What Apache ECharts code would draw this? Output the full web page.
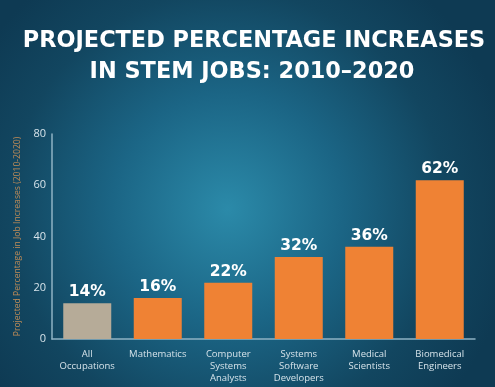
<!DOCTYPE html>
<html><head><meta charset="utf-8">
<script src="https://cdn.jsdelivr.net/npm/echarts@6/dist/echarts.min.js"></script>
<style>html,body{margin:0;padding:0;background:#0f3d57}#c{width:495px;height:387px}</style>
</head><body><div id="c"></div>
<script>
var categories = ['All\nOccupations','Mathematics','Computer\nSystems\nAnalysts','Systems\nSoftware\nDevelopers','Medical\nScientists','Biomedical\nEngineers'];
var values = [14, 16, 22, 32, 36, 62];
var valueLabels = ['14%','16%','22%','32%','36%','62%'];
var yTicks = [0, 20, 40, 60, 80];
var titleLines = ['PROJECTED PERCENTAGE INCREASES','IN STEM JOBS: 2010\u20132020'];
var yAxisTitle = 'Projected Percentage in Job Increases (2010-2020)';

var titleStyle = {color:'#ffffff', fontFamily:'DejaVu Sans', fontWeight:'bold', fontSize:22.4};
var chart = echarts.init(document.getElementById('c'), null, {renderer:'canvas'});
chart.setOption({
  backgroundColor: {type:'radial', x:0.46, y:0.54, r:0.75, colorStops:[
    {offset:0, color:'#2b8aa9'},{offset:0.4, color:'#1b6585'},{offset:0.75, color:'#124660'},{offset:1, color:'#0e3a53'}]},
  title: [
    {text: titleLines[0], left:254, textAlign:'center', top:30, padding:0, textStyle:titleStyle},
    {text: titleLines[1], left:252, textAlign:'center', top:61, padding:0, textStyle:titleStyle}
  ],
  grid: {left:52, right:20, top:134, bottom:48, containLabel:false},
  xAxis: {type:'category', data:categories,
    axisLine:{lineStyle:{color:'#8fb3c4', width:1.5}}, axisTick:{show:false},
    axisLabel:{color:'#d6e3ea', fontFamily:'Open Sans', fontSize:9.5, lineHeight:12, interval:0, margin:9}},
  yAxis: {type:'value', min:yTicks[0], max:yTicks[yTicks.length-1], interval:20,
    name: yAxisTitle, nameLocation:'middle', nameGap:27, nameRotate:90,
    nameTextStyle:{color:'#c08c57', fontFamily:'Open Sans', fontSize:8.6},
    axisLine:{show:true, lineStyle:{color:'#8fb3c4', width:1.5}}, axisTick:{show:false},
    splitLine:{show:false},
    axisLabel:{color:'#d6e3ea', fontFamily:'Open Sans', fontSize:11, margin:6}},
  series: [{type:'bar', barWidth:48,
    data: values.map(function(v,i){return {value:v, itemStyle:{color: i===0 ? '#b6ab98' : '#ef8234'}};}),
    label:{show:true, position:'top', distance:3, color:'#ffffff', fontFamily:'DejaVu Sans', fontWeight:'bold', fontSize:15.5,
      formatter:function(p){return valueLabels[p.dataIndex];}}
  }]
});
</script></body></html>
